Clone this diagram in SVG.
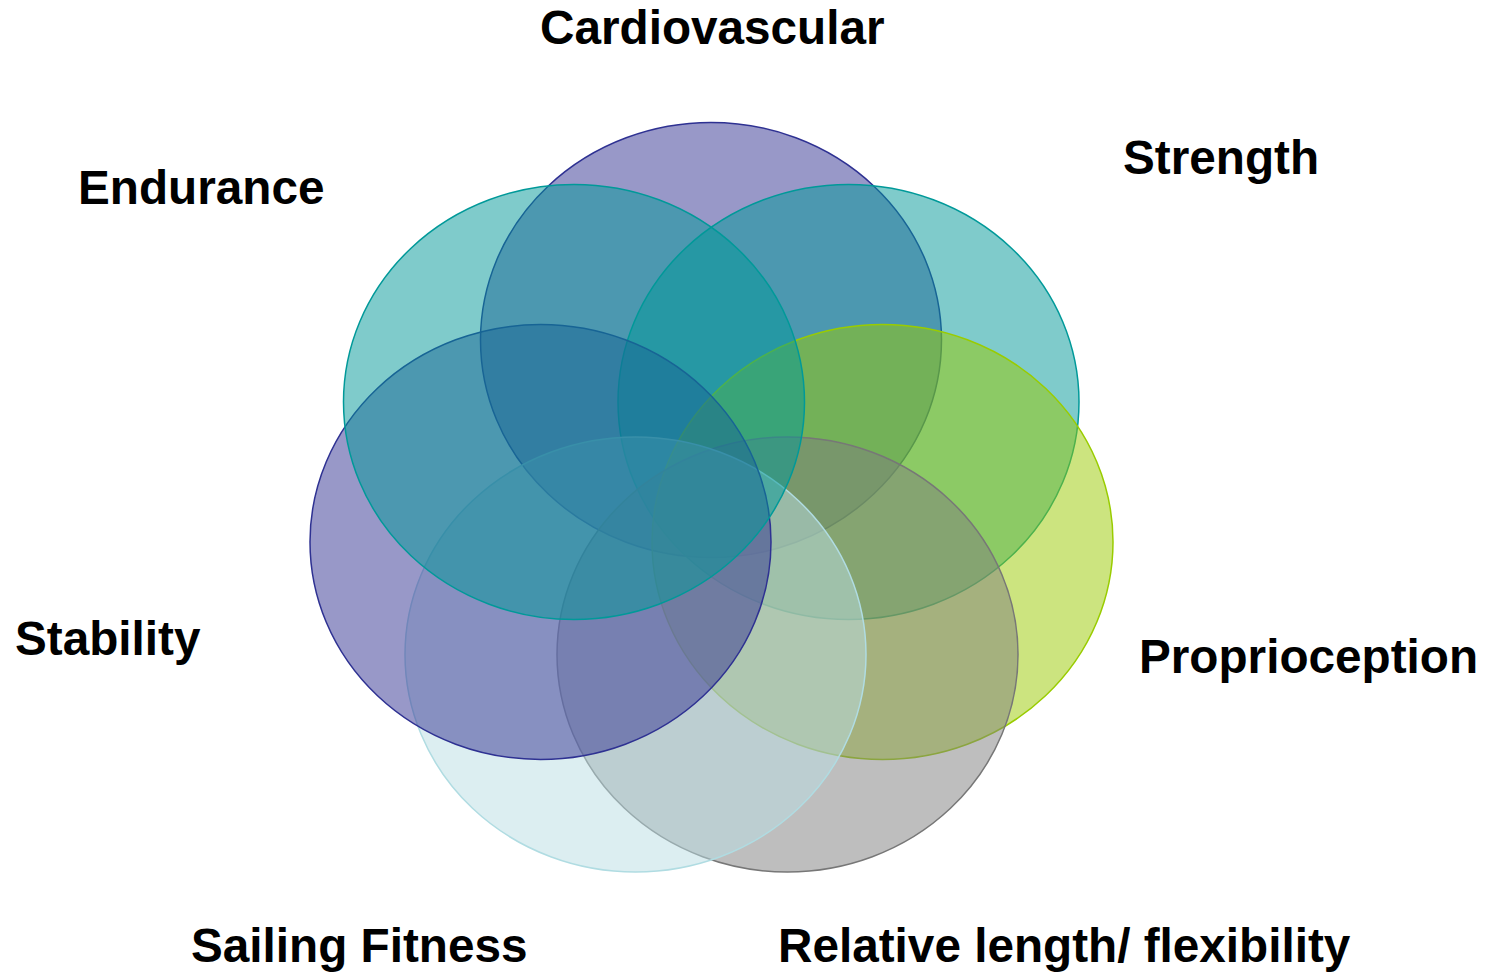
<svg xmlns="http://www.w3.org/2000/svg" width="1491" height="973" viewBox="0 0 1491 973">
  <style>
    .ring { stroke-width: 1.5; }
    .label { font-family: "Liberation Sans", Arial, sans-serif; font-weight: bold; font-size: 47.7px; fill: #000000; }
    .purple { fill: #313191; fill-opacity: 0.5; stroke: #2e3192; }
    .teal { fill: #009797; fill-opacity: 0.5; stroke: #009999; }
    .green { fill: #99c900; fill-opacity: 0.5; stroke: #99cc00; }
    .grey { fill: #7d7d7d; fill-opacity: 0.5; stroke: #777777; }
    .pale { fill: #b9dde3; fill-opacity: 0.5; stroke: #b0dce2; }
  </style>
  <rect width="1491" height="973" fill="#ffffff"/>

  <!-- overlapping rings, drawn clockwise from the top -->
  <g id="cardiovascular">
    <ellipse class="ring purple" cx="711" cy="340" rx="230.5" ry="217.5"/>
  </g>
  <g id="strength">
    <ellipse class="ring teal" cx="848.5" cy="402" rx="230.5" ry="217.5"/>
  </g>
  <g id="proprioception">
    <ellipse class="ring green" cx="882.5" cy="542" rx="230.5" ry="217.5"/>
  </g>
  <g id="relative-length">
    <ellipse class="ring grey" cx="787.5" cy="654.5" rx="230.5" ry="217.5"/>
  </g>
  <g id="sailing-fitness">
    <ellipse class="ring pale" cx="635.5" cy="654.5" rx="230.5" ry="217.5"/>
  </g>
  <g id="stability">
    <ellipse class="ring purple" cx="540.5" cy="542" rx="230.5" ry="217.5"/>
  </g>
  <g id="endurance">
    <ellipse class="ring teal" cx="574" cy="402" rx="230.5" ry="217.5"/>
  </g>

  <!-- labels -->
  <g id="labels">
    <text class="label" x="540" y="44">Cardiovascular</text>
    <text class="label" x="1123" y="174">Strength</text>
    <text class="label" x="78" y="204">Endurance</text>
    <text class="label" x="15" y="655">Stability</text>
    <text class="label" x="1139" y="673">Proprioception</text>
    <text class="label" x="191" y="962">Sailing Fitness</text>
    <text class="label" x="778" y="962">Relative length/ flexibility</text>
  </g>
</svg>
